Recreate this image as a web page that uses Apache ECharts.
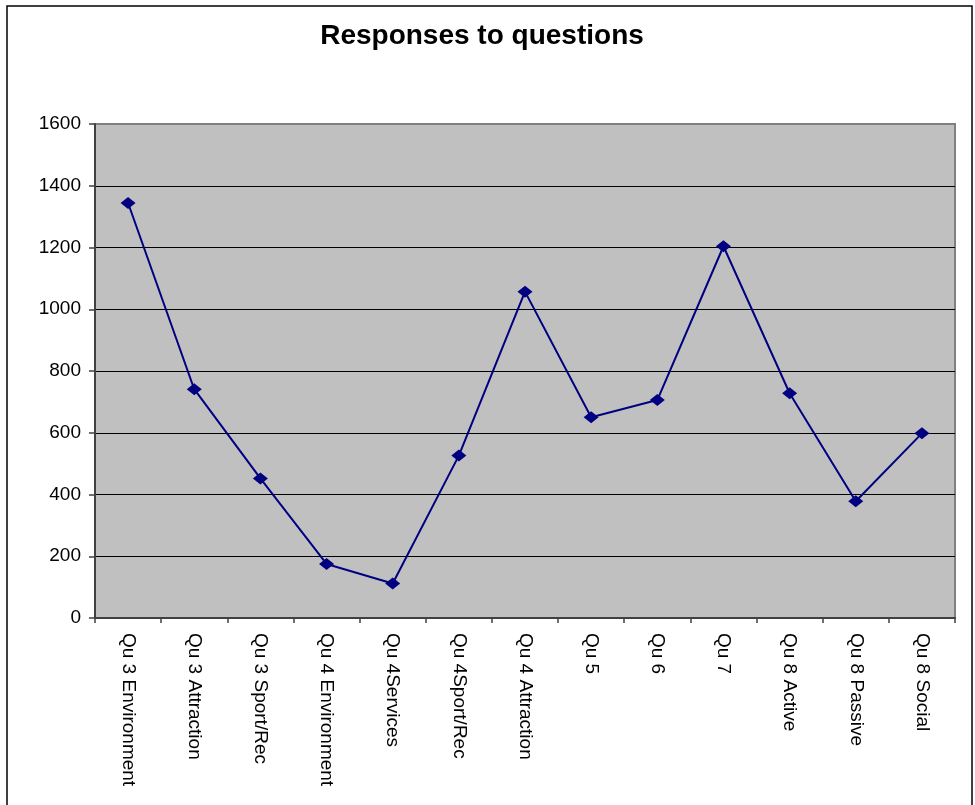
<!DOCTYPE html>
<html>
<head>
<meta charset="utf-8">
<script src="https://cdn.jsdelivr.net/npm/echarts@6/dist/echarts.min.js"></script>
<style>
  html, body { margin: 0; padding: 0; background: #fff; }
  #chart { width: 975px; height: 805px; }
</style>
</head>
<body>
<div id="chart"></div>
<script>
const categories = [
  'Qu 3 Environment', 'Qu 3 Attraction', 'Qu 3 Sport/Rec', 'Qu 4 Environment',
  'Qu 4Services', 'Qu 4Sport/Rec', 'Qu 4 Attraction', 'Qu 5', 'Qu 6', 'Qu 7',
  'Qu 8 Active', 'Qu 8 Passive', 'Qu 8 Social'
];
const responses = [1344, 741, 452, 175, 112, 526, 1057, 650, 706, 1204, 728, 378, 598];
const yTicks = [0, 200, 400, 600, 800, 1000, 1200, 1400, 1600];

const chart = echarts.init(document.getElementById('chart'), null, { renderer: 'canvas' });
const font = '"Liberation Sans", Arial, sans-serif';
chart.setOption({
  animation: false,
  backgroundColor: '#ffffff',
  title: {
    text: 'Responses to questions',
    left: 477,
    textAlign: 'center',
    top: 17,
    textStyle: { fontFamily: font, fontSize: 28, fontWeight: 'bold', color: '#000' }
  },
  graphic: [{
    type: 'rect',
    shape: { x: 7, y: 6, width: 965, height: 900 },
    style: { fill: 'none', stroke: '#000', lineWidth: 1.5 },
    silent: true
  }],
  grid: {
    left: 95, right: 20, top: 124, bottom: 187,
    show: true, backgroundColor: '#C0C0C0', borderColor: '#808080', borderWidth: 2
  },
  xAxis: {
    type: 'category',
    data: categories,
    boundaryGap: true,
    axisLine: { lineStyle: { color: '#404040', width: 2 } },
    axisTick: { show: true, length: 5, lineStyle: { color: '#404040', width: 1.5 } },
    axisLabel: {
      rotate: -90, interval: 0, margin: 15,
      fontFamily: font, fontSize: 19, color: '#000'
    },
    splitLine: { show: false }
  },
  yAxis: {
    type: 'value',
    min: yTicks[0], max: yTicks[yTicks.length - 1], interval: 200,
    axisLine: { show: true, lineStyle: { color: '#404040', width: 2 } },
    axisTick: { show: true, length: 6, lineStyle: { color: '#404040', width: 1.5 } },
    axisLabel: {
      margin: 14, fontFamily: font, fontSize: 19, color: '#000',
      formatter: function (v) { return String(v); }
    },
    splitLine: { show: true, showMinLine: false, showMaxLine: false, lineStyle: { color: '#000', width: 1 } }
  },
  series: [{
    type: 'line',
    data: responses,
    symbol: 'diamond',
    symbolSize: [15, 12],
    lineStyle: { color: '#000080', width: 2 },
    itemStyle: { color: '#000080' }
  }]
});
</script>
</body>
</html>
